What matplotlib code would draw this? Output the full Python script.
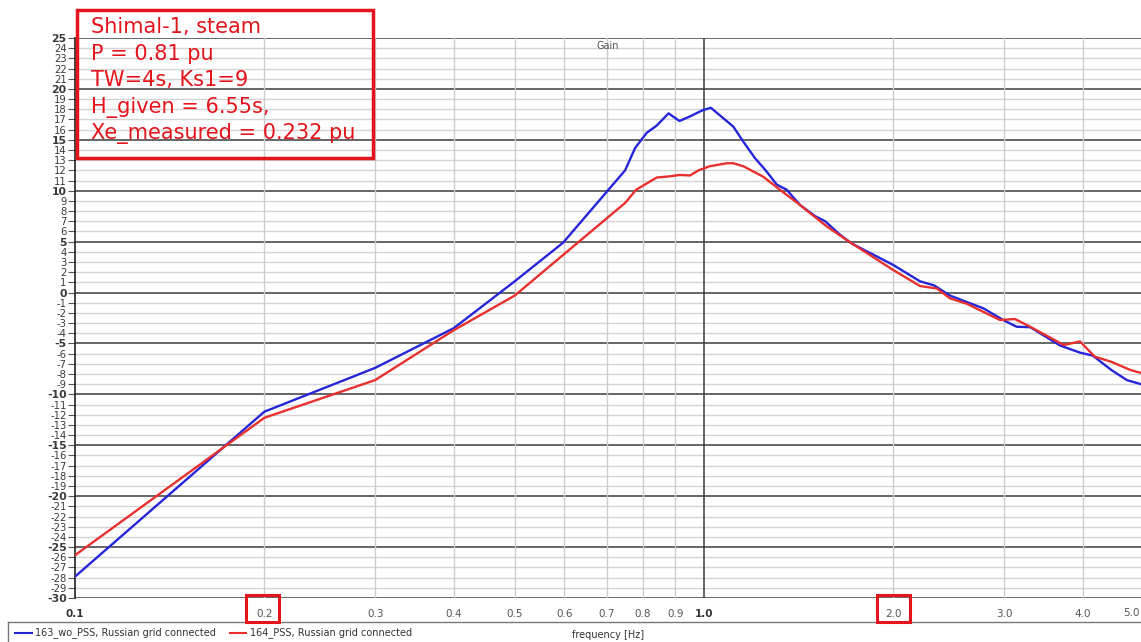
import matplotlib
matplotlib.use("Agg")
import matplotlib.pyplot as plt
from matplotlib.patches import Rectangle
from matplotlib.lines import Line2D

# --- data (frequency in Hz, gain in dB) ---
blue_f = [0.1, 0.2, 0.3, 0.4, 0.5, 0.597, 0.749, 0.777, 0.811, 0.841, 0.878,
          0.914, 0.95, 0.994, 1.025, 1.113, 1.155, 1.205, 1.253, 1.305, 1.353,
          1.421, 1.502, 1.558, 1.647, 1.719, 2.0, 2.205, 2.322, 2.46, 2.78,
          2.99, 3.14, 3.30, 3.68, 3.96, 4.15, 4.44, 4.70, 4.95]
blue_g = [-27.9, -11.7, -7.4, -3.5, 1.1, 4.9, 12.0, 14.2, 15.7, 16.4, 17.6,
          16.85, 17.3, 17.9, 18.15, 16.3, 14.8, 13.2, 12.0, 10.6, 10.1,
          8.6, 7.5, 7.0, 5.65, 4.8, 2.7, 1.1, 0.7, -0.3, -1.55,
          -2.7, -3.36, -3.4, -5.2, -5.9, -6.2, -7.6, -8.6, -9.0]

red_f = [0.1, 0.2, 0.3, 0.4, 0.5, 0.749, 0.78, 0.841, 0.878, 0.915, 0.95,
         0.98, 1.02, 1.088, 1.113, 1.155, 1.24, 1.32, 1.421, 1.474, 1.567,
         1.686, 2.0, 2.205, 2.344, 2.46, 2.616, 2.955, 3.12, 3.30, 3.73,
         3.96, 4.18, 4.44, 4.76, 4.95]
red_g = [-25.8, -12.3, -8.6, -3.7, -0.3, 8.8, 10.1, 11.3, 11.4, 11.55, 11.5,
         12.0, 12.4, 12.7, 12.7, 12.4, 11.4, 10.1, 8.6, 7.8, 6.5,
         5.15, 2.2, 0.64, 0.4, -0.57, -1.1, -2.7, -2.6, -3.36, -5.15,
         -4.8, -6.3, -6.8, -7.6, -7.9]

blue_label = "163_wo_PSS, Russian grid connected"
red_label = "164_PSS, Russian grid connected"

x_ticks = [0.1, 0.2, 0.3, 0.4, 0.5, 0.6, 0.7, 0.8, 0.9, 1.0, 2.0, 3.0, 4.0]
x_bold = [0.1, 1.0]
y_ticks = list(range(-30, 26))

info_lines = ["Shimal-1, steam", "P = 0.81 pu", "TW=4s, Ks1=9",
              "H_given = 6.55s,", "Xe_measured = 0.232 pu"]

BLUE = "#2626d9"
RED = "#e8302e"
BOX_RED = "#e3141b"
W, H = 1141, 642


def fx(px):
    return px / W


def fy(py):
    return 1 - py / H


fig = plt.figure(figsize=(W / 100, H / 100), dpi=100)
ax = fig.add_axes([fx(75), fy(598), fx(1141) - fx(75), fy(38) - fy(598)])
ax.set_xscale("log")
ax.set_xlim(0.1, 4.95)
ax.set_ylim(-30, 25)

# grid
for v in y_ticks:
    major = v % 5 == 0
    ax.axhline(v, color="#3c3c3c" if major else "#d4d4d4",
               lw=1.1 if major else 1.0, zorder=1)
for f in x_ticks[1:]:
    ax.axvline(f, color="#3c3c3c" if f == 1.0 else "#cccccc",
               lw=1.1 if f == 1.0 else 1.0, zorder=1)

ax.plot(blue_f, blue_g, color=BLUE, lw=1.7, zorder=3)
ax.plot(red_f, red_g, color=RED, lw=1.7, zorder=3)

for s in ["top", "right", "bottom"]:
    ax.spines[s].set_visible(False)
ax.spines["left"].set_color("#222222")
ax.spines["left"].set_linewidth(1.2)

ax.set_yticks(y_ticks)
ax.set_yticklabels([str(v) for v in y_ticks])
for lab, v in zip(ax.get_yticklabels(), y_ticks):
    lab.set_fontsize(7.2 if v % 5 else 7.8)
    lab.set_fontweight("bold" if v % 5 == 0 else "normal")
    lab.set_color("#3a3a3a")
ax.tick_params(axis="y", length=5, width=0.8, color="#555555", pad=1)

ax.set_xticks(x_ticks)
ax.set_xticks([], minor=True)
ax.set_xticklabels([f"{v:.1f}" for v in x_ticks])
for lab, v in zip(ax.get_xticklabels(), x_ticks):
    lab.set_fontsize(7.5)
    lab.set_fontweight("bold" if v in x_bold else "normal")
    lab.set_color("#333333" if v in x_bold else "#555555")
ax.tick_params(axis="x", length=0, pad=8)
fig.text(fx(1131), fy(613), "5.0", fontsize=7.5, color="#555555",
         ha="center", va="center")

ax.text(0.5, 0.995, "Gain", transform=ax.transAxes, fontsize=7,
        color="#555555", ha="center", va="top")

# info box
fig.patches.append(Rectangle((fx(77), fy(158)), fx(373) - fx(77),
                             fy(10) - fy(158), transform=fig.transFigure,
                             fill=False, ec=BOX_RED, lw=2.5, zorder=10))
for i, line in enumerate(info_lines):
    fig.text(fx(91), fy(27 + 26.7 * i), line, fontsize=15,
             family="DejaVu Sans", color=BOX_RED, ha="left", va="center",
             zorder=11)

# red highlight boxes around 0.2 and 2.0 tick labels
for x0 in (246, 877):
    fig.patches.append(Rectangle((fx(x0), fy(622)), fx(33), fy(595) - fy(622),
                                 transform=fig.transFigure, fill=False,
                                 ec=BOX_RED, lw=2.2, zorder=10))

# legend strip at the bottom
fig.add_artist(Line2D([fx(8), fx(1141)], [fy(622), fy(622)],
                      color="#777777", lw=1.0))
fig.add_artist(Line2D([fx(8), fx(8)], [fy(622), fy(642)],
                      color="#777777", lw=1.0))
fig.add_artist(Line2D([fx(15), fx(32)], [fy(633), fy(633)], color=BLUE, lw=1.5))
fig.text(fx(35), fy(633), blue_label, fontsize=7, color="#333333", va="center")
fig.add_artist(Line2D([fx(230), fx(246)], [fy(633), fy(633)], color=RED, lw=1.5))
fig.text(fx(250), fy(633), red_label, fontsize=7, color="#333333", va="center")
fig.text(fx(608), fy(635), "frequency [Hz]", fontsize=7, color="#333333",
         ha="center", va="center")

fig.savefig("out.png", dpi=100)
